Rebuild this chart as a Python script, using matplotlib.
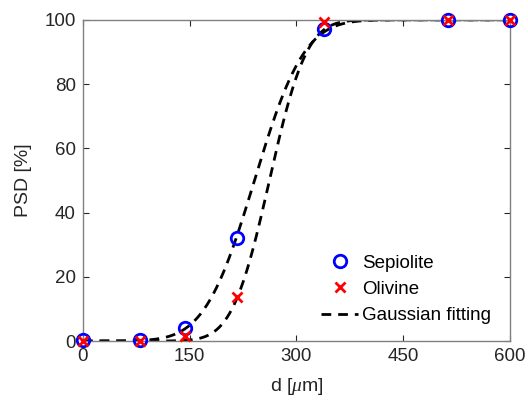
"""
Particle size distribution with Gaussian fits
"""
import math

import matplotlib
matplotlib.use('Agg')
import matplotlib.pyplot as plt
import numpy as np

plt.rcParams['font.family'] = ['Liberation Sans', 'DejaVu Sans']
plt.rcParams['mathtext.fontset'] = 'custom'
plt.rcParams['mathtext.it'] = 'Liberation Serif:italic'

# measured sieve data
d = [0, 80, 144, 216, 338, 513, 600]
sepiolite = [0.2, 0.4, 3.9, 32, 97.3, 100, 100]
olivine = [0.0, 0.1, 1.5, 13.8, 99.4, 100, 100]

# Gaussian fit parameters (mean, std)
fit_sepiolite = (241, 55)
fit_olivine = (262, 41)


def gauss_cdf(x, mu, sigma):
    return np.array([50 * (1 + math.erf((xi - mu) / (sigma * math.sqrt(2)))) for xi in x])


###############################################################################
fig = plt.figure(figsize=(5.28, 4.05), dpi=100)
ax = fig.add_axes([0.157, 0.158, 0.809, 0.793])

gray = '#262626'
xx = np.linspace(0, 600, 400)
ax.plot(xx, gauss_cdf(xx, *fit_sepiolite), '--', color='k', lw=2, dashes=(3.5, 2.5),
        label='Gaussian fitting', zorder=2)
ax.plot(xx, gauss_cdf(xx, *fit_olivine), '--', color='k', lw=2, dashes=(3.5, 2.5), zorder=2)

h1, = ax.plot(d, sepiolite, 'o', ms=9, mfc='none', mec='#0000ff', mew=2,
              label='Sepiolite', zorder=3, clip_on=False)
h2, = ax.plot(d, olivine, 'x', ms=7, mec='#ff0000', mew=2,
              label='Olivine', zorder=4, clip_on=False)
h3 = ax.lines[0]

ax.set_xlim(0, 600)
ax.set_ylim(0, 100)
ax.set_xticks([0, 150, 300, 450, 600])
ax.set_yticks([0, 20, 40, 60, 80, 100])
ax.tick_params(direction='in', top=True, right=True, length=4, width=0.8,
               labelsize=13.5, colors=gray, pad=5)
for s in ax.spines.values():
    s.set_color('#808080')
    s.set_linewidth(1)

ax.set_xlabel(r'd [$\mu$m]', fontsize=14, color=gray, labelpad=8)
ax.set_ylabel('PSD [%]', fontsize=14, color=gray, labelpad=9)

leg = ax.legend(handles=[h1, h2, h3], loc='lower right', bbox_to_anchor=(0.995, 0.0),
                frameon=False, fontsize=13.5, handlelength=2.0, handletextpad=0.2,
                labelspacing=0.48)

fig.savefig('out.png', dpi=100)
